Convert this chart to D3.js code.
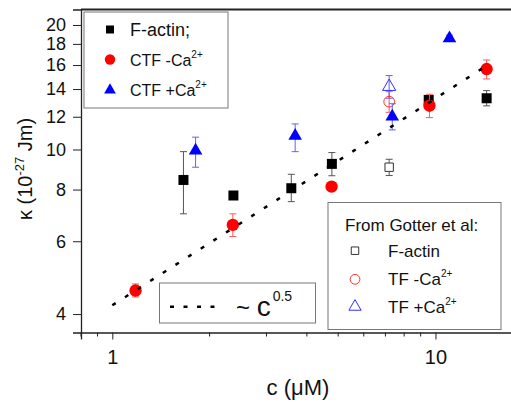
<!DOCTYPE html>
<html lang="en">
<head>
<meta charset="utf-8">
<style type="text/css">
    body { margin: 0; background: #fff; }
    svg { font-family: "Liberation Sans", Arial, sans-serif; }
    .err { stroke-width: 1px; fill: none; }
    .legendbox { fill: #fff; stroke: #777; stroke-width: 1px; }
</style>
</head>
<body>
<svg width="511" height="403"></svg>
<script src="https://d3js.org/d3.v7.min.js"></script>
<script type="text/javascript">

    // F-actin (this work)
    var factinC  = [1.66, 2.37, 3.58, 4.78, 9.53, 14.4];
    var factinK  = [8.44, 7.74, 8.06, 9.23, 13.18, 13.3];
    var factinLo = [6.99, 7.62, 7.48, 8.64, 12.85, 12.75];
    var factinHi = [9.88, 7.86, 8.71, 9.83, 13.5, 13.88];

    // CTF -Ca2+
    var ctfMinusC  = [1.18, 2.36, 4.77, 9.58, 14.4];
    var ctfMinusK  = [4.56, 6.57, 8.13, 12.76, 15.65];
    var ctfMinusLo = [4.40, 6.16, 7.95, 11.94, 14.81];
    var ctfMinusHi = [4.73, 6.99, 8.30, 13.6, 16.46];

    // CTF +Ca2+
    var ctfPlusC  = [1.81, 3.68, 7.35, 11.05];
    var ctfPlusK  = [9.94, 10.79, 12.01, 18.57];
    var ctfPlusLo = [9.06, 9.88, 11.15, 18.25];
    var ctfPlusHi = [10.71, 11.53, 12.9, 18.9];

    // From Gotter et al
    var gotterC = [7.19];
    var gotterFactinK = [9.06],  gotterFactinLo = [8.65],  gotterFactinHi = [9.47];
    var gotterMinusK  = [13.05], gotterMinusLo  = [12.3],  gotterMinusHi  = [13.8];
    var gotterPlusK   = [14.19], gotterPlusLo   = [13.3],  gotterPlusHi   = [15.09];

    // ~ c^0.5 guide line (end points)
    var fitC = [1, 14.5];
    var fitK = [4.2, 16.0];

    var yTicks = [4, 6, 8, 10, 12, 14, 16, 18, 20];
    var xMajor = [1, 10];
    var xMinor = [0.8, 0.9, 2, 3, 4, 5, 6, 7, 8, 9];

    var svg = d3.select("svg");

    var x = d3.scaleLog().domain([0.8, 17.5]).range([81, 514]);
    var y = d3.scaleLog().domain([3.61, 21.8]).range([332.5, 9.5]);

    // frame: top line
    svg.append("line")
        .attr("x1", 81).attr("x2", 511)
        .attr("y1", 9.5).attr("y2", 9.5)
        .attr("stroke", "#222").attr("stroke-width", 2);

    // y axis
    var yAxis = d3.axisLeft(y)
        .tickValues(yTicks)
        .tickFormat(d3.format("d"))
        .tickSize(8)
        .tickPadding(7);
    var gy = svg.append("g").attr("transform", "translate(81,0)").call(yAxis);
    gy.select(".domain").attr("stroke", "#222").attr("stroke-width", 1.3);
    gy.selectAll(".tick line").attr("stroke", "#222");
    gy.selectAll(".tick text")
        .attr("font-family", "Liberation Sans, Arial, sans-serif")
        .attr("font-size", 18).attr("fill", "#111");

    // x axis
    var xAxis = d3.axisBottom(x)
        .tickValues(xMajor)
        .tickFormat(d3.format("d"))
        .tickSize(7)
        .tickPadding(10);
    var gx = svg.append("g").attr("transform", "translate(0,332.5)").call(xAxis);
    gx.select(".domain").attr("stroke", "#222").attr("stroke-width", 1.3);
    gx.selectAll(".tick line").attr("stroke", "#222");
    gx.selectAll(".tick text")
        .attr("font-family", "Liberation Sans, Arial, sans-serif")
        .attr("font-size", 20).attr("fill", "#111");

    gx.selectAll(".minor")
        .data(xMinor)
        .enter()
        .append("line")
        .attr("class", "minor")
        .attr("x1", function (d) { return x(d); })
        .attr("x2", function (d) { return x(d); })
        .attr("y1", 0).attr("y2", 4)
        .attr("stroke", "#222");

    // axis titles
    var ylab = svg.append("text")
        .attr("transform", "translate(32,169) rotate(-90)")
        .attr("text-anchor", "middle")
        .attr("font-size", 20)
        .attr("fill", "#111");
    ylab.append("tspan").text("\u03ba (10");
    ylab.append("tspan").attr("font-size", 13).attr("dy", -8).text("-27");
    ylab.append("tspan").attr("dy", 8).text(" Jm)");

    svg.append("text")
        .attr("x", 298).attr("y", 395)
        .attr("text-anchor", "middle")
        .attr("font-size", 22)
        .attr("fill", "#111")
        .text("c (\u03bcM)");

    // helpers
    function series(cs, ks, lo, hi) {
        return cs.map(function (c, i) {
            return { c: c, k: ks[i], lo: lo[i], hi: hi[i] };
        });
    }

    function errorBars(data, color) {
        var g = svg.append("g").attr("stroke", color).attr("class", "err");
        data.forEach(function (d) {
            var cx = x(d.c);
            g.append("line").attr("x1", cx).attr("x2", cx)
                .attr("y1", y(d.lo)).attr("y2", y(d.hi));
            g.append("line").attr("x1", cx - 3.5).attr("x2", cx + 3.5)
                .attr("y1", y(d.lo)).attr("y2", y(d.lo));
            g.append("line").attr("x1", cx - 3.5).attr("x2", cx + 3.5)
                .attr("y1", y(d.hi)).attr("y2", y(d.hi));
        });
    }

    function markers(data, type, size, fill, stroke) {
        svg.append("g").selectAll("path")
            .data(data)
            .enter()
            .append("path")
            .attr("transform", function (d) { return "translate(" + x(d.c) + "," + y(d.k) + ")"; })
            .attr("d", d3.symbol().type(type).size(size))
            .attr("fill", fill)
            .attr("stroke", stroke || "none")
            .attr("stroke-width", 1);
    }

    var factin = series(factinC, factinK, factinLo, factinHi);
    var ctfMinus = series(ctfMinusC, ctfMinusK, ctfMinusLo, ctfMinusHi);
    var ctfPlus = series(ctfPlusC, ctfPlusK, ctfPlusLo, ctfPlusHi);
    var gFactin = series(gotterC, gotterFactinK, gotterFactinLo, gotterFactinHi);
    var gMinus = series(gotterC, gotterMinusK, gotterMinusLo, gotterMinusHi);
    var gPlus = series(gotterC, gotterPlusK, gotterPlusLo, gotterPlusHi);

    // Gotter et al (open)
    errorBars(gFactin, "#555");
    errorBars(gMinus, "#ff5a5a");
    errorBars(gPlus, "#6060ff");
    markers(gFactin, d3.symbolSquare, 70, "#fff", "#333");
    markers(gMinus, d3.symbolCircle, 90, "none", "#ff3030");
    markers(gPlus, d3.symbolTriangle, 75, "none", "#3030ff");

    // this work (filled)
    errorBars(factin, "#555");
    markers(factin, d3.symbolSquare, 100, "#000");
    errorBars(ctfMinus, "#ff5a5a");
    markers(ctfMinus, d3.symbolCircle, 120, "#ff0000");
    errorBars(ctfPlus, "#6060ff");
    markers(ctfPlus, d3.symbolTriangle, 80, "#0000ff");

    // guide line
    svg.append("line")
        .attr("x1", x(fitC[0])).attr("y1", y(fitK[0]))
        .attr("x2", x(fitC[1])).attr("y2", y(fitK[1]))
        .attr("stroke", "#000")
        .attr("stroke-width", 2.5)
        .attr("stroke-dasharray", "4,11");

    // legend 1
    svg.append("rect").attr("class", "legendbox")
        .attr("x", 84).attr("y", 12).attr("width", 144).attr("height", 96);
    var leg1 = [
        { type: d3.symbolSquare, size: 64, fill: "#000", label: "F-actin;", sup: "", fs: 18, y: 29.5 },
        { type: d3.symbolCircle, size: 85, fill: "#ff0000", label: "CTF -Ca", sup: "2+", fs: 16, y: 59.5 },
        { type: d3.symbolTriangle, size: 60, fill: "#0000ff", label: "CTF +Ca", sup: "2+", fs: 16, y: 90 }
    ];
    leg1.forEach(function (d) {
        svg.append("path")
            .attr("transform", "translate(110," + d.y + ")")
            .attr("d", d3.symbol().type(d.type).size(d.size))
            .attr("fill", d.fill);
        var t = svg.append("text").attr("x", 130).attr("y", d.y + 6)
            .attr("font-size", d.fs).attr("fill", "#111");
        t.append("tspan").text(d.label);
        if (d.sup) t.append("tspan").attr("font-size", 10).attr("dy", -8).text(d.sup);
    });

    // legend 2
    svg.append("rect").attr("class", "legendbox")
        .attr("x", 328).attr("y", 202.5).attr("width", 173).attr("height", 127);
    svg.append("text").attr("x", 345).attr("y", 231)
        .attr("font-size", 17).attr("fill", "#111").text("From Gotter et al:");
    var leg2 = [
        { type: d3.symbolSquare, size: 56, stroke: "#333", label: "F-actin", sup: "", y: 250.7 },
        { type: d3.symbolCircle, size: 75, stroke: "#ff3030", label: "TF -Ca", sup: "2+", y: 279.3 },
        { type: d3.symbolTriangle, size: 65, stroke: "#3030ff", label: "TF +Ca", sup: "2+", y: 306.7 }
    ];
    leg2.forEach(function (d) {
        svg.append("path")
            .attr("transform", "translate(355," + d.y + ")")
            .attr("d", d3.symbol().type(d.type).size(d.size))
            .attr("fill", "none")
            .attr("stroke", d.stroke);
        var t = svg.append("text").attr("x", 388).attr("y", d.y + 6)
            .attr("font-size", 17).attr("fill", "#111");
        t.append("tspan").text(d.label);
        if (d.sup) t.append("tspan").attr("font-size", 10).attr("dy", -8).text(d.sup);
    });

    // legend 3 (guide line)
    svg.append("rect").attr("class", "legendbox")
        .attr("x", 159.5).attr("y", 283).attr("width", 156).attr("height", 40);
    svg.append("line")
        .attr("x1", 170).attr("x2", 224)
        .attr("y1", 306.7).attr("y2", 306.7)
        .attr("stroke", "#000").attr("stroke-width", 2.5)
        .attr("stroke-dasharray", "4,9.5");
    var t3 = svg.append("text").attr("x", 236).attr("y", 316).attr("fill", "#111");
    t3.append("tspan").attr("font-size", 24).text("~ ");
    t3.append("tspan").attr("font-size", 28).text("c");
    t3.append("tspan").attr("font-size", 14).attr("dy", -15).attr("dx", 2).text("0.5");

</script>
</body>
</html>
